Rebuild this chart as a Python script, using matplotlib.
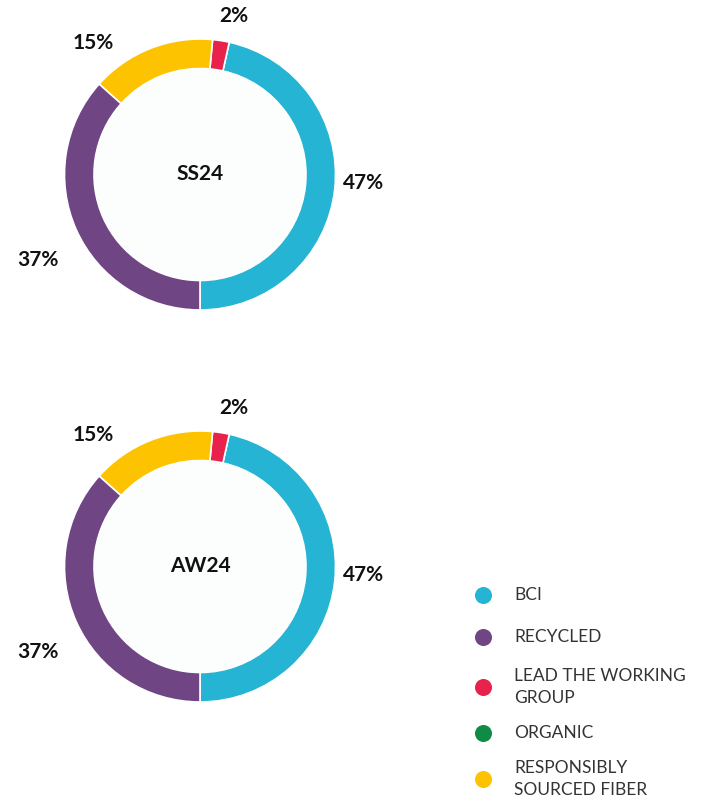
import numpy as np
import matplotlib.pyplot as plt
from matplotlib.patches import Circle

categories = ['BCI', 'RECYCLED', 'LEAD THE WORKING\nGROUP', 'ORGANIC',
              'RESPONSIBLY\nSOURCED FIBER']
colors = ['#25b4d3', '#6f4584', '#e8224a', '#0f8b45', '#fdc300']
seasons = ['SS24', 'AW24']
ss24 = [47, 37, 2, 0, 15]
aw24 = [47, 37, 2, 0, 15]

# counterclockwise order of slices starting from the bottom
ring_order = [0, 2, 4, 1]
# label placement: (distance in radii, angle nudge in degrees)
label_pos = {0: (1.06, 3), 2: (1.18, 2), 4: (1.16, 12), 1: (1.22, 7)}

plt.rcParams['font.family'] = ['Lato', 'DejaVu Sans']

fig = plt.figure(figsize=(7.15, 8.07), dpi=100)
ax = fig.add_axes([0, 0, 1, 1])
H = 807

R = 135.5
W = 29.5
centers = [(200, H - 174.5), (200, H - 566.5)]

for season, vals, (cx, cy) in zip(seasons, [ss24, aw24], centers):
    idx = [i for i in ring_order if vals[i] > 0]
    ax.add_patch(Circle((cx, cy), R - W, color='#fcfefe', zorder=0))
    wedges, _ = ax.pie([vals[i] for i in idx], colors=[colors[i] for i in idx],
                       startangle=-90, counterclock=True, radius=R, center=(cx, cy),
                       wedgeprops=dict(width=W, edgecolor='white', linewidth=1.2))
    for i, w in zip(idx, wedges):
        dist, nudge = label_pos[i]
        ang = np.deg2rad((w.theta1 + w.theta2) / 2 + nudge)
        x = cx + dist * R * np.cos(ang)
        y = cy + dist * R * np.sin(ang)
        ax.text(x, y, '{0}%'.format(vals[i]), ha='left' if np.cos(ang) > 0 else 'right',
                va='center', fontsize=15, fontweight='bold', color='#111111')
    ax.text(cx, cy, season, ha='center', va='center', fontsize=15,
            fontweight='bold', color='#111111')

# legend rows, drawn by hand (pixel rows from the top)
legend_rows = [595, 637, 687, 733, 779]
for label, c, row in zip(categories, colors, legend_rows):
    ax.scatter(483, H - row, s=150, color=c, linewidths=0)
    ax.text(514, H - row, label, ha='left', va='center', fontsize=12.5,
            color='#333333', linespacing=1.45)

ax.set_xlim(0, 715)
ax.set_ylim(0, H)
ax.set_aspect('equal')
ax.axis('off')

fig.savefig('out.png', dpi=100)
